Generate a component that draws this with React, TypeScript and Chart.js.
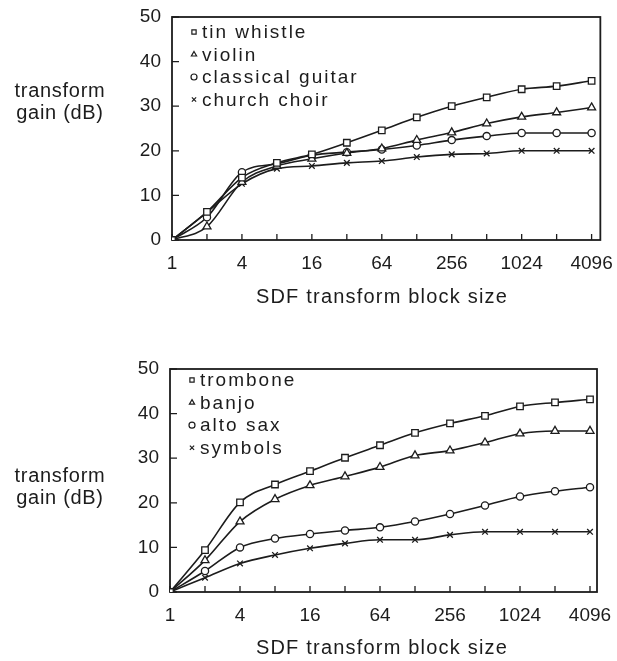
import React, { useEffect, useRef } from 'react';
import { Chart, registerables } from 'chart.js';
import { drawPoint } from 'chart.js/helpers';

Chart.register(...registerables);

const INK = '#1c1c1c';
const FONT = '"Liberation Sans", Arial, Helvetica, sans-serif';

// ---- data ----
const blockSizes = [1, 2, 4, 8, 16, 32, 64, 128, 256, 512, 1024, 2048, 4096];
const xTickLabels = ['1', '4', '16', '64', '256', '1024', '4096'];
const yTickValues = [0, 10, 20, 30, 40, 50];
const xTitle = 'SDF transform block size';
const yTitleLines = ['transform', 'gain (dB)'];

const topLabels = ['tin whistle', 'violin', 'classical guitar', 'church choir'];
const tinWhistle = [0, 6.3, 14.0, 17.3, 19.2, 21.8, 24.6, 27.5, 30.0, 32.0, 33.8, 34.5, 35.7];
const violin = [0, 3.0, 13.0, 16.6, 18.2, 19.5, 20.5, 22.4, 24.1, 26.1, 27.6, 28.6, 29.7];
const classicalGuitar = [0, 5.1, 15.2, 17.1, 19.0, 19.7, 20.3, 21.2, 22.4, 23.3, 24.0, 24.0, 24.0];
const churchChoir = [0, 6.2, 12.6, 16.0, 16.6, 17.3, 17.7, 18.6, 19.2, 19.4, 20.0, 20.0, 20.0];

const bottomLabels = ['trombone', 'banjo', 'alto sax', 'symbols'];
const trombone = [0, 9.4, 20.1, 24.1, 27.1, 30.1, 32.9, 35.7, 37.8, 39.5, 41.6, 42.5, 43.2];
const banjo = [0, 7.1, 15.8, 20.8, 23.9, 25.9, 28.0, 30.6, 31.7, 33.5, 35.5, 36.1, 36.1];
const altoSax = [0, 4.7, 10.0, 12.0, 13.0, 13.8, 14.5, 15.8, 17.5, 19.4, 21.4, 22.6, 23.5];
const symbols = [0, 3.2, 6.4, 8.3, 9.8, 10.9, 11.7, 11.7, 12.8, 13.5, 13.5, 13.5, 13.5];

const STYLES = ['rect', 'triangle', 'circle', 'crossRot'];
const RADII = [4.6, 4.6, 3.6, 4];

const framePlugin = {
  id: 'frame',
  beforeDatasetsDraw(chart: any) {
    const { ctx, chartArea: a, scales } = chart;
    ctx.save();
    ctx.strokeStyle = INK;
    ctx.lineWidth = 1.8;
    ctx.strokeRect(a.left, a.top, a.right - a.left, a.bottom - a.top);
    ctx.lineWidth = 1.3;
    ctx.beginPath();
    blockSizes.forEach((b) => {
      const px = scales.x.getPixelForValue(Math.log2(b));
      ctx.moveTo(px, a.bottom);
      ctx.lineTo(px, a.bottom - 6);
    });
    yTickValues.forEach((v) => {
      const py = scales.y.getPixelForValue(v);
      ctx.moveTo(a.left, py);
      ctx.lineTo(a.left + 7, py);
    });
    ctx.stroke();
    ctx.restore();
  },
  afterDatasetsDraw(chart: any, _a: any, opts: any) {
    const { ctx, chartArea: a } = chart;
    ctx.save();
    ctx.font = `19px ${FONT}`;
    (ctx as any).letterSpacing = '2px';
    ctx.textBaseline = 'middle';
    ctx.textAlign = 'left';
    chart.data.datasets.forEach((ds: any, i: number) => {
      const x = a.left + opts.legendX;
      const y = a.top + opts.legendY + i * opts.legendPitch;
      ctx.fillStyle = '#fff';
      ctx.strokeStyle = INK;
      ctx.lineWidth = 1.2;
      drawPoint(ctx, { pointStyle: ds.pointStyle, radius: 3, borderWidth: 1.2, rotation: 0 } as any, x, y);
      ctx.fillStyle = INK;
      ctx.fillText(ds.label, x + 8, y + 1);
    });
    ctx.font = `20px ${FONT}`;
    (ctx as any).letterSpacing = '1.2px';
    ctx.textAlign = 'center';
    ctx.fillText(opts.title, opts.titleX, a.bottom + opts.titleDY);
    ctx.restore();
  },
};

type Geom = {
  padTop: number;
  padRight: number;
  yWidth: number;
  xHeight: number;
  xMax: number;
  legendX: number;
  legendY: number;
  legendPitch: number;
  titleX: number;
  titleDY: number;
};

function makeConfig(labels: string[], series: number[][], g: Geom): any {
  return {
    type: 'line',
    data: {
      datasets: series.map((vals, i) => ({
        label: labels[i],
        data: blockSizes.map((b, j) => ({ x: Math.log2(b), y: vals[j] })),
        pointStyle: STYLES[i],
        pointRadius: RADII[i],
        borderColor: INK,
        backgroundColor: '#fff',
        pointBackgroundColor: '#fff',
        pointBorderColor: INK,
        pointBorderWidth: 1.3,
        borderWidth: 1.6,
        cubicInterpolationMode: 'monotone',
        fill: false,
      })),
    },
    options: {
      animation: false,
      responsive: false,
      maintainAspectRatio: false,
      events: [],
      layout: { padding: { top: g.padTop, right: g.padRight, left: 0, bottom: 0 } },
      plugins: {
        legend: { display: false },
        tooltip: { enabled: false },
        frame: {
          legendX: g.legendX,
          legendY: g.legendY,
          legendPitch: g.legendPitch,
          title: xTitle,
          titleX: g.titleX,
          titleDY: g.titleDY,
        },
      },
      scales: {
        x: {
          type: 'linear',
          min: 0,
          max: g.xMax,
          grid: { display: false },
          border: { display: false },
          afterBuildTicks: (s: any) => {
            s.ticks = xTickLabels.map((l) => ({ value: Math.log2(Number(l)) }));
          },
          ticks: {
            callback: (v: number) => String(Math.round(Math.pow(2, v))),
            font: { family: FONT, size: 19 },
            color: INK,
            padding: 4,
            maxRotation: 0,
            autoSkip: false,
          },
          afterFit: (s: any) => {
            s.height = g.xHeight;
          },
        },
        y: {
          min: 0,
          max: 50,
          afterBuildTicks: (s: any) => {
            s.ticks = yTickValues.map((v) => ({ value: v }));
          },
          ticks: { font: { family: FONT, size: 19 }, color: INK, padding: 3 },
          grid: { display: false },
          border: { display: false },
          afterFit: (s: any) => {
            s.width = g.yWidth;
          },
        },
      },
    },
    plugins: [framePlugin],
  };
}

function Panel({ top, labels, series, geom }: { top: number; labels: string[]; series: number[][]; geom: Geom }) {
  const ref = useRef<HTMLCanvasElement>(null);
  useEffect(() => {
    const chart = new Chart(ref.current as HTMLCanvasElement, makeConfig(labels, series, geom));
    return () => chart.destroy();
  }, []);
  return (
    <canvas
      ref={ref}
      width={617}
      height={320}
      style={{ position: 'absolute', left: 0, top, width: 617, height: 320, display: 'block' }}
    />
  );
}

function YTitle({ top }: { top: number }) {
  return (
    <div
      style={{
        position: 'absolute',
        left: 0,
        top,
        width: 120,
        textAlign: 'center',
        font: `20px ${FONT}`,
        letterSpacing: '0.7px',
        lineHeight: '22px',
        color: INK,
      }}
    >
      {yTitleLines.map((l) => (
        <div key={l}>{l}</div>
      ))}
    </div>
  );
}

export default function App() {
  const topGeom: Geom = {
    padTop: 17,
    padRight: 13,
    yWidth: 172,
    xHeight: 80,
    xMax: 12.25,
    legendX: 22,
    legendY: 15,
    legendPitch: 22.5,
    titleX: 382,
    titleDY: 57,
  };
  const bottomGeom: Geom = {
    padTop: 17,
    padRight: 20,
    yWidth: 170,
    xHeight: 80,
    xMax: 12.2,
    legendX: 22,
    legendY: 11,
    legendPitch: 22.6,
    titleX: 382,
    titleDY: 56,
  };
  return (
    <div
      style={{
        position: 'absolute',
        left: 0,
        top: 0,
        width: 617,
        height: 661,
        overflow: 'hidden',
        background: '#fff',
      }}
    >
      <Panel top={0} labels={topLabels} series={[tinWhistle, violin, classicalGuitar, churchChoir]} geom={topGeom} />
      <Panel top={352} labels={bottomLabels} series={[trombone, banjo, altoSax, symbols]} geom={bottomGeom} />
      <YTitle top={79} />
      <YTitle top={464} />
    </div>
  );
}
